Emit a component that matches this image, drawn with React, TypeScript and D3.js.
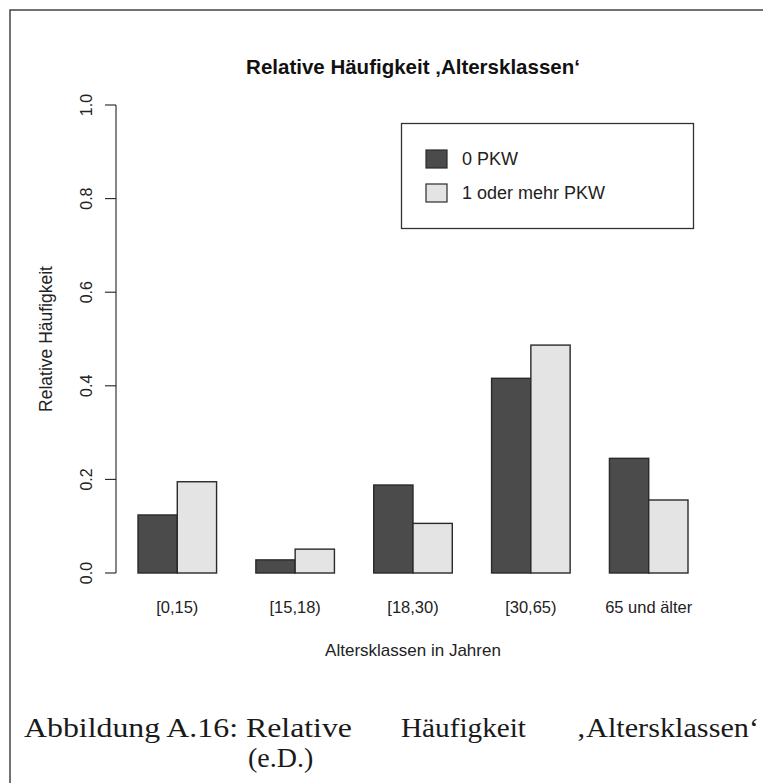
import { useEffect, useRef } from "react";
import * as d3 from "d3";

const categories = ["[0,15)", "[15,18)", "[18,30)", "[30,65)", "65 und älter"];
const seriesNames = ["0 PKW", "1 oder mehr PKW"];
const keinPkw = [0.124, 0.028, 0.188, 0.416, 0.245];
const mitPkw = [0.195, 0.051, 0.106, 0.487, 0.156];
const yTicks = [0, 0.2, 0.4, 0.6, 0.8, 1.0];

const fills = ["#4b4b4b", "#e4e4e4"];
const ink = "#222";
const sans = "'Liberation Sans', Arial, sans-serif";
const serif = "'Liberation Serif', 'DejaVu Serif', serif";

export default function App() {
  const svgRef = useRef<SVGSVGElement | null>(null);

  useEffect(() => {
    if (!svgRef.current) return;
    const svg = d3.select(svgRef.current);
    svg.selectAll("*").remove();

    // R-like plot region: usr x = [0.44, 15.56] units, y from 0 to 1
    const left = 116;
    const right = 710;
    const y = d3.scaleLinear().domain([0, 1]).range([573, 105]);

    const x0 = d3
      .scaleBand<string>()
      .domain(categories)
      .range([left, right])
      .paddingInner(1 / 3)
      .paddingOuter(0.56 / 3);
    const x1 = d3
      .scaleBand<string>()
      .domain(seriesNames)
      .range([0, x0.bandwidth()])
      .padding(0);

    const rows = categories.map((c, i) => ({
      cat: c,
      vals: [keinPkw[i], mitPkw[i]],
    }));

    // frame from the scanned page
    svg
      .append("path")
      .attr("d", "M10,783 V10 H763")
      .attr("fill", "none")
      .attr("stroke", "#444")
      .attr("stroke-width", 1.5);

    // bars
    const g = svg
      .selectAll("g.grp")
      .data(rows)
      .join("g")
      .attr("class", "grp")
      .attr("transform", (d) => `translate(${x0(d.cat)},0)`);

    g.selectAll("rect")
      .data((d) => d.vals.map((v, j) => ({ v, s: seriesNames[j], j })))
      .join("rect")
      .attr("x", (d) => x1(d.s)!)
      .attr("y", (d) => y(d.v))
      .attr("width", x1.bandwidth())
      .attr("height", (d) => y(0) - y(d.v))
      .attr("fill", (d) => fills[d.j])
      .attr("stroke", "#2a2a2a")
      .attr("stroke-width", 1.4);

    // y axis
    const ax = svg.append("g").attr("transform", `translate(${left},0)`);
    ax.append("path")
      .attr("d", `M0,${y(0)} V${y(1)}`)
      .attr("stroke", ink)
      .attr("stroke-width", 1.1);
    yTicks.forEach((t) => {
      ax.append("line")
        .attr("x1", -11)
        .attr("x2", 0)
        .attr("y1", y(t))
        .attr("y2", y(t))
        .attr("stroke", ink)
        .attr("stroke-width", 1.1);
      ax.append("text")
        .attr("transform", `translate(-24,${y(t)}) rotate(-90)`)
        .attr("text-anchor", "middle")
        .attr("font-family", sans)
        .attr("font-size", 16)
        .attr("fill", ink)
        .text(t.toFixed(1));
    });

    // x labels
    svg
      .selectAll("text.xl")
      .data(categories)
      .join("text")
      .attr("class", "xl")
      .attr("x", (d) => x0(d)! + x0.bandwidth() / 2)
      .attr("y", 613)
      .attr("text-anchor", "middle")
      .attr("font-family", sans)
      .attr("font-size", 16.5)
      .attr("fill", ink)
      .text((d) => d);

    const mid = (left + right) / 2;

    svg
      .append("text")
      .attr("x", mid)
      .attr("y", 656)
      .attr("text-anchor", "middle")
      .attr("font-family", sans)
      .attr("font-size", 17)
      .attr("fill", ink)
      .text("Altersklassen in Jahren");

    svg
      .append("text")
      .attr("transform", `translate(52,${(y(0) + y(1)) / 2}) rotate(-90)`)
      .attr("text-anchor", "middle")
      .attr("font-family", sans)
      .attr("font-size", 17.5)
      .attr("fill", ink)
      .text("Relative Häufigkeit");

    svg
      .append("text")
      .attr("x", mid)
      .attr("y", 74)
      .attr("text-anchor", "middle")
      .attr("font-family", sans)
      .attr("font-weight", "bold")
      .attr("font-size", 20.5)
      .attr("fill", "#111")
      .text("Relative Häufigkeit \u201AAltersklassen\u2018");

    // legend
    const lg = svg.append("g");
    lg.append("rect")
      .attr("x", 401.5)
      .attr("y", 123.5)
      .attr("width", 292)
      .attr("height", 105)
      .attr("fill", "white")
      .attr("stroke", "#333")
      .attr("stroke-width", 1.3);
    seriesNames.forEach((s, i) => {
      const cy = 159 + i * 34;
      lg.append("rect")
        .attr("x", 426)
        .attr("y", cy - 9)
        .attr("width", 21)
        .attr("height", 18)
        .attr("fill", fills[i])
        .attr("stroke", "#2a2a2a")
        .attr("stroke-width", 1.2);
      lg.append("text")
        .attr("x", 462)
        .attr("y", cy + 6)
        .attr("font-family", sans)
        .attr("font-size", 18)
        .attr("fill", ink)
        .text(s);
    });

    // figure caption (justified LaTeX line)
    const cap = svg
      .append("g")
      .attr("font-family", serif)
      .attr("font-size", 28)
      .attr("fill", "#1a1a1a");
    const capWords = [
      { t: "Abbildung A.16: Relative", x: 24, w: 328 },
      { t: "Häufigkeit", x: 401, w: 125 },
      { t: "\u201AAltersklassen\u2018", x: 576, w: 183 },
    ];
    capWords.forEach((c) => {
      cap
        .append("text")
        .attr("x", c.x)
        .attr("y", 737)
        .attr("textLength", c.w)
        .attr("lengthAdjust", "spacingAndGlyphs")
        .text(c.t);
    });
    cap.append("text").attr("x", 248).attr("y", 767).text("(e.D.)");
  }, []);

  return (
    <svg
      ref={svgRef}
      width={763}
      height={783}
      style={{ position: "absolute", left: 0, top: 0, background: "white" }}
    />
  );
}
